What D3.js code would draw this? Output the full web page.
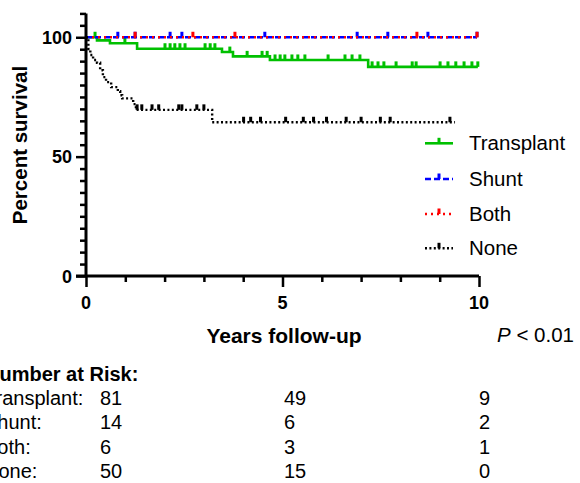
<!DOCTYPE html>
<html>
<head>
<meta charset="utf-8">
<script src="https://cdn.jsdelivr.net/npm/d3@7"></script>
<style>
  body { margin: 0; background: #fff; }
  svg { display: block; font-family: Arial, "Liberation Sans", sans-serif; }
</style>
</head>
<body>
<svg id="km-chart" width="580" height="483"></svg>
<script>
// Kaplan-Meier steps: [years, percent survival]
const transplantSteps = [[0, 100], [0.28, 98.7], [0.61, 97.5], [1.30, 95.2], [3.46, 93.8], [3.74, 92.0], [4.68, 90.5], [7.18, 87.6]];
const transplantCensor = [0.23, 0.99, 2.01, 2.14, 2.26, 2.39, 2.52, 3.03, 3.16, 3.28, 3.66, 4.10, 4.48, 4.61, 4.81, 4.94, 5.06, 5.24, 5.39, 5.57, 6.16, 6.59, 6.77, 6.97, 7.28, 7.43, 7.58, 7.89, 8.30, 8.40, 9.01, 9.21, 9.41, 9.62, 9.82, 9.97];
const transplantEnd = 9.97;

const shuntSteps = [[0, 100]];
const shuntCensor = [0.81, 1.25, 2.14, 2.44, 4.55, 6.90, 7.68, 8.70, 9.95];
const shuntEnd = 9.95;

const bothSteps = [[0, 100]];
const bothCensor = [1.25, 2.72, 3.79, 8.42, 9.95];
const bothEnd = 9.95;

const noneSteps = [[0, 100], [0.06, 95.1], [0.11, 92.6], [0.18, 90.5], [0.28, 89.3], [0.36, 86.2], [0.43, 83.3], [0.51, 81.2], [0.64, 79.1], [0.81, 77.4], [0.87, 75.7], [0.92, 74.4], [1.20, 72.0], [1.27, 69.6], [3.21, 64.4]];
const noneCensor = [1.30, 1.42, 1.68, 1.85, 2.36, 2.44, 2.82, 3.00, 4.01, 4.19, 4.44, 5.08, 5.53, 5.79, 6.12, 6.62, 7.00, 7.49, 7.74, 9.26];
const noneEnd = 9.39;

const groupNames = ["Transplant", "Shunt", "Both", "None"];
const riskTimes = [0, 5, 10];
const riskTransplant = [81, 49, 9];
const riskShunt = [14, 6, 2];
const riskBoth = [6, 3, 1];
const riskNone = [50, 15, 0];

const xTicks = [0, 5, 10];
const yTicks = [0, 50, 100];

const svg = d3.select('#km-chart');

const xScale = d3.scaleLinear().domain([0, 10]).range([86, 479]);
const yScale = d3.scaleLinear().domain([0, 110]).range([276, 13.4]);

const series = [
    { name: groupNames[0], steps: transplantSteps, censor: transplantCensor, end: transplantEnd, color: '#00c000', dash: null, width: 2.6 },
    { name: groupNames[1], steps: shuntSteps, censor: shuntCensor, end: shuntEnd, color: '#0000ff', dash: '6,3', width: 2.6 },
    { name: groupNames[2], steps: bothSteps, censor: bothCensor, end: bothEnd, color: '#ff0000', dash: '2,4', width: 2.6 },
    { name: groupNames[3], steps: noneSteps, censor: noneCensor, end: noneEnd, color: '#000000', dash: '2,2.4', width: 2.4 }
];

function survivalAt(steps, t) {
    let s = steps[0][1];
    steps.forEach(d => { if (d[0] <= t) s = d[1]; });
    return s;
}

const line = d3.line()
    .x(d => xScale(d[0]))
    .y(d => yScale(d[1]))
    .curve(d3.curveStepAfter);

// curves
series.forEach(s => {
    const pts = s.steps.concat([[s.end, s.steps[s.steps.length - 1][1]]]);
    const g = svg.append('g');
    g.append('path')
        .datum(pts)
        .attr('d', line)
        .attr('fill', 'none')
        .attr('stroke', s.color)
        .attr('stroke-width', s.width)
        .attr('stroke-dasharray', s.dash);
    g.selectAll('rect')
        .data(s.censor)
        .enter()
        .append('rect')
        .attr('x', d => xScale(d) - 1.5)
        .attr('y', d => yScale(survivalAt(s.steps, d)) - 5.5)
        .attr('width', 3)
        .attr('height', 5.5)
        .attr('fill', s.color);
});

// y axis
const yAxis = svg.append('g')
    .attr('transform', 'translate(86,0)')
    .call(d3.axisLeft(yScale).tickValues(d3.range(0, 111, 5)).tickSize(6).tickFormat(''));
yAxis.select('.domain').attr('d', `M0,${yScale(110)}V${yScale(0)}`).attr('stroke-width', 3);
yAxis.selectAll('.tick line').attr('stroke-width', 2.5)
    .attr('x2', d => yTicks.includes(d) ? -10 : -6);

svg.append('g').selectAll('text')
    .data(yTicks)
    .enter()
    .append('text')
    .attr('x', 72)
    .attr('y', d => yScale(d) + 6.5)
    .attr('text-anchor', 'end')
    .style('font-size', '18px')
    .style('font-weight', 'bold')
    .text(d => d);

// x axis
const xAxis = svg.append('g')
    .attr('transform', `translate(0,${yScale(0)})`)
    .call(d3.axisBottom(xScale).tickValues(d3.range(0, 11, 1)).tickSize(6).tickFormat(''));
xAxis.select('.domain').attr('d', `M${xScale(0) - 10},0H${xScale(10)}`).attr('stroke-width', 3);
xAxis.selectAll('.tick line').attr('stroke-width', 2.5)
    .attr('y2', d => xTicks.includes(d) ? 11 : 6);

svg.append('g').selectAll('text')
    .data(xTicks)
    .enter()
    .append('text')
    .attr('x', d => xScale(d))
    .attr('y', 309)
    .attr('text-anchor', 'middle')
    .style('font-size', '18px')
    .style('font-weight', 'bold')
    .text(d => d);

// axis titles
svg.append('text')
    .attr('transform', 'translate(27,145) rotate(-90)')
    .attr('text-anchor', 'middle')
    .style('font-size', '20.5px')
    .style('font-weight', 'bold')
    .text('Percent survival');

svg.append('text')
    .attr('x', 284)
    .attr('y', 343)
    .attr('text-anchor', 'middle')
    .style('font-size', '21px')
    .style('font-weight', 'bold')
    .text('Years follow-up');

const pText = svg.append('text')
    .attr('x', 497)
    .attr('y', 342)
    .style('font-size', '20.5px');
pText.append('tspan').style('font-style', 'italic').text('P');
pText.append('tspan').text(' < 0.01');

// legend
const legendY = [143.3, 179, 214, 248.3];
series.forEach((s, i) => {
    const lg = svg.append('g').attr('transform', `translate(0,${legendY[i]})`);
    lg.append('line')
        .attr('x1', 425).attr('x2', 453)
        .attr('stroke', s.color)
        .attr('stroke-width', s.width)
        .attr('stroke-dasharray', s.dash);
    lg.append('rect')
        .attr('x', 437.5).attr('y', -5.5)
        .attr('width', 3).attr('height', 5.5)
        .attr('fill', s.color);
    lg.append('text')
        .attr('x', 469)
        .attr('y', 7)
        .style('font-size', '20.5px')
        .text(s.name);
});

// number at risk table (left edge cut off as in the original figure)
const riskRows = [riskTransplant, riskShunt, riskBoth, riskNone];
const riskColX = [100, 284, 479];
svg.append('text')
    .attr('x', -15)
    .attr('y', 381)
    .style('font-size', '20px')
    .style('font-weight', 'bold')
    .text('Number at Risk:');

riskRows.forEach((row, i) => {
    const y = 405 + i * 24.3;
    svg.append('text')
        .attr('x', -16)
        .attr('y', y)
        .style('font-size', '20px')
        .text(groupNames[i] + ':');
    row.forEach((v, j) => {
        svg.append('text')
            .attr('x', riskColX[j])
            .attr('y', y)
            .style('font-size', '20px')
            .text(v);
    });
});
</script>
</body>
</html>
